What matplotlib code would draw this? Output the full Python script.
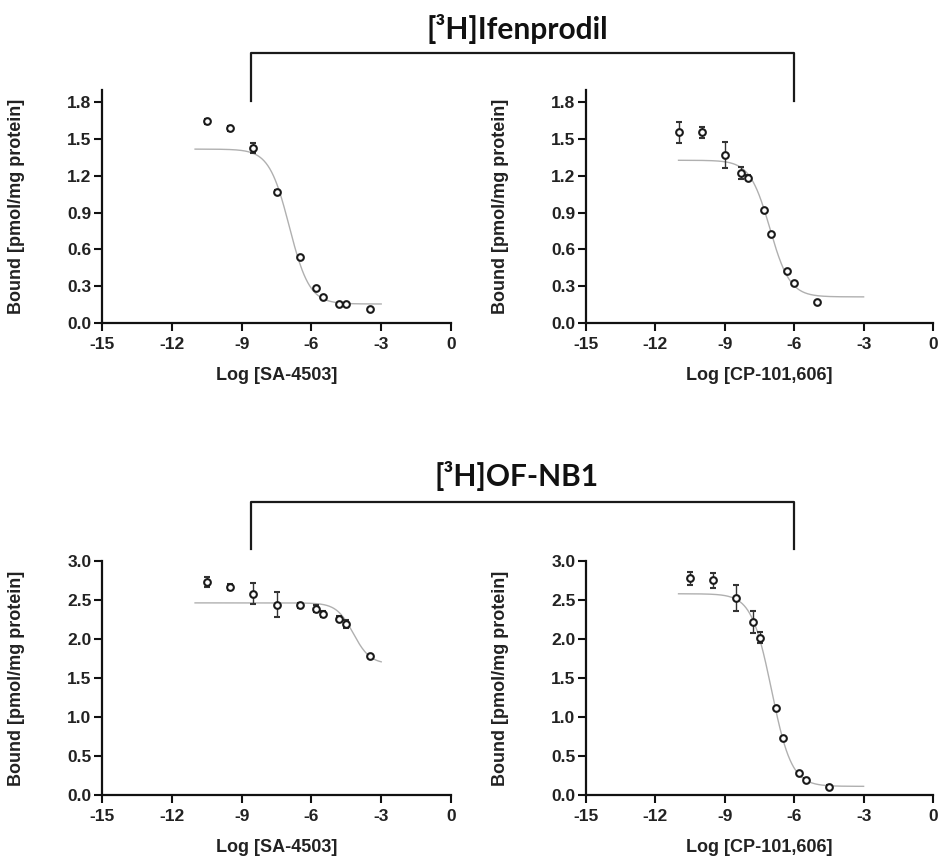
import numpy as np
import matplotlib
matplotlib.use('Agg')
import matplotlib.pyplot as plt
from matplotlib.lines import Line2D

plt.rcParams['font.family'] = ['Liberation Sans', 'DejaVu Sans']

# --- data (log molar concentration vs bound) ---
# [3H]Ifenprodil vs SA-4503
ifen_sa_x = [-10.5, -9.5, -8.5, -7.5, -6.5, -5.8, -5.5, -4.8, -4.5, -3.5]
ifen_sa_y = [1.644, 1.587, 1.429, 1.072, 0.537, 0.284, 0.215, 0.153, 0.153, 0.115]
ifen_sa_err = [0.02, 0.02, 0.04, 0.01, 0.01, 0.0, 0.0, 0.0, 0.0, 0.0]
ifen_sa_fit = (1.418, 0.155, -6.95, 1.0)   # top, bottom, logIC50, hill

# [3H]Ifenprodil vs CP-101,606
ifen_cp_x = [-11.0, -10.0, -9.0, -8.3, -8.0, -7.3, -7.0, -6.3, -6.0, -5.0]
ifen_cp_y = [1.556, 1.556, 1.370, 1.223, 1.184, 0.922, 0.725, 0.421, 0.328, 0.175]
ifen_cp_err = [0.085, 0.045, 0.11, 0.05, 0.02, 0.0, 0.0, 0.0, 0.0, 0.0]
ifen_cp_fit = (1.327, 0.213, -7.05, 1.0)

# [3H]OF-NB1 vs SA-4503
ofnb_sa_x = [-10.5, -9.5, -8.5, -7.5, -6.5, -5.8, -5.5, -4.8, -4.5, -3.5]
ofnb_sa_y = [2.731, 2.668, 2.582, 2.441, 2.433, 2.390, 2.318, 2.262, 2.190, 1.780]
ofnb_sa_err = [0.07, 0.04, 0.13, 0.16, 0.03, 0.05, 0.04, 0.03, 0.05, 0.02]
ofnb_sa_fit = (2.463, 1.68, -4.2, 1.2)

# [3H]OF-NB1 vs CP-101,606
ofnb_cp_x = [-10.5, -9.5, -8.5, -7.8, -7.5, -6.8, -6.5, -5.8, -5.5, -4.5]
ofnb_cp_y = [2.778, 2.752, 2.529, 2.220, 2.019, 1.114, 0.729, 0.279, 0.193, 0.103]
ofnb_cp_err = [0.08, 0.10, 0.165, 0.14, 0.07, 0.02, 0.02, 0.02, 0.02, 0.02]
ofnb_cp_fit = (2.58, 0.111, -6.98, 1.0)

xticks = [-15, -12, -9, -6, -3, 0]
fit_range = (-11, -3)

W, H = 939, 856
fig = plt.figure(figsize=(W / 100, H / 100), dpi=100)


def sigmoid(x, top, bottom, logic50, hill):
    return bottom + (top - bottom) / (1 + 10 ** (hill * (x - logic50)))


def panel(rect, x, y, err, fit, xlabel, ylim, yticks, yfmt):
    ax = fig.add_axes(rect)
    xs = np.linspace(fit_range[0], fit_range[1], 300)
    ax.plot(xs, sigmoid(xs, *fit), color='#b0b0b0', lw=1.0, zorder=1)
    ax.errorbar(x, y, yerr=err, fmt='o', ms=4.8, mfc='white', mec='#1a1a1a',
                mew=1.5, ecolor='#333333', elinewidth=1.0, capsize=2.5,
                capthick=1.0, zorder=3)
    ax.set_xlim(-15, 0)
    ax.set_ylim(*ylim)
    ax.set_xticks(xticks)
    ax.set_xticklabels([str(t) for t in xticks])
    ax.set_yticks(yticks)
    ax.set_yticklabels([yfmt % t for t in yticks])
    for s in ['top', 'right']:
        ax.spines[s].set_visible(False)
    for s in ['left', 'bottom']:
        ax.spines[s].set_linewidth(1.6)
        ax.spines[s].set_color('#111111')
    ax.tick_params(direction='out', length=6, width=1.5, colors='#111111',
                   labelsize=12.5)
    ax.tick_params(axis='y', pad=1.5)
    ax.tick_params(axis='x', pad=4)
    for lab in ax.get_xticklabels() + ax.get_yticklabels():
        lab.set_fontweight('bold')
        lab.set_color('#222222')
    ax.set_xlabel(xlabel, fontsize=13, fontweight='bold', color='#222222')
    ax.set_ylabel('Bound [pmol/mg protein]', fontsize=13, fontweight='bold',
                  color='#222222')
    ax.xaxis.set_label_coords(0.5, -0.19)
    ax.yaxis.set_label_coords(-0.222, 0.5)
    return ax


def px_rect(left, right, top, bottom):
    return [left / W, 1 - bottom / H, (right - left) / W, (bottom - top) / H]


panel(px_rect(102, 451, 90, 323), ifen_sa_x, ifen_sa_y, ifen_sa_err, ifen_sa_fit,
      'Log [SA-4503]', (0, 1.9), [0, 0.3, 0.6, 0.9, 1.2, 1.5, 1.8], '%.1f')
panel(px_rect(586, 933, 90, 323), ifen_cp_x, ifen_cp_y, ifen_cp_err, ifen_cp_fit,
      'Log [CP-101,606]', (0, 1.9), [0, 0.3, 0.6, 0.9, 1.2, 1.5, 1.8], '%.1f')
panel(px_rect(102, 451, 561, 795), ofnb_sa_x, ofnb_sa_y, ofnb_sa_err, ofnb_sa_fit,
      'Log [SA-4503]', (0, 3.0), [0, 0.5, 1.0, 1.5, 2.0, 2.5, 3.0], '%.1f')
panel(px_rect(586, 933, 561, 795), ofnb_cp_x, ofnb_cp_y, ofnb_cp_err, ofnb_cp_fit,
      'Log [CP-101,606]', (0, 3.0), [0, 0.5, 1.0, 1.5, 2.0, 2.5, 3.0], '%.1f')


# brackets + group titles
def bracket(y_top, y_bot, title, y_base):
    xl, xr = 251 / W, 794 / W
    yt, yb = 1 - y_top / H, 1 - y_bot / H
    fig.add_artist(Line2D([xl, xl, xr, xr], [yb, yt, yt, yb], color='#1a1a1a',
                          lw=1.6, transform=fig.transFigure))
    fig.text(517 / W, 1 - y_base / H, title, ha='center', va='baseline',
             fontsize=21.5, fontweight='bold', color='#111111',
             family=['Lato', 'DejaVu Sans'])


bracket(53, 101, '[³H]Ifenprodil', 39)
bracket(502, 549, '[³H]OF-NB1', 486)

fig.savefig('out.png', dpi=100, facecolor='white')
